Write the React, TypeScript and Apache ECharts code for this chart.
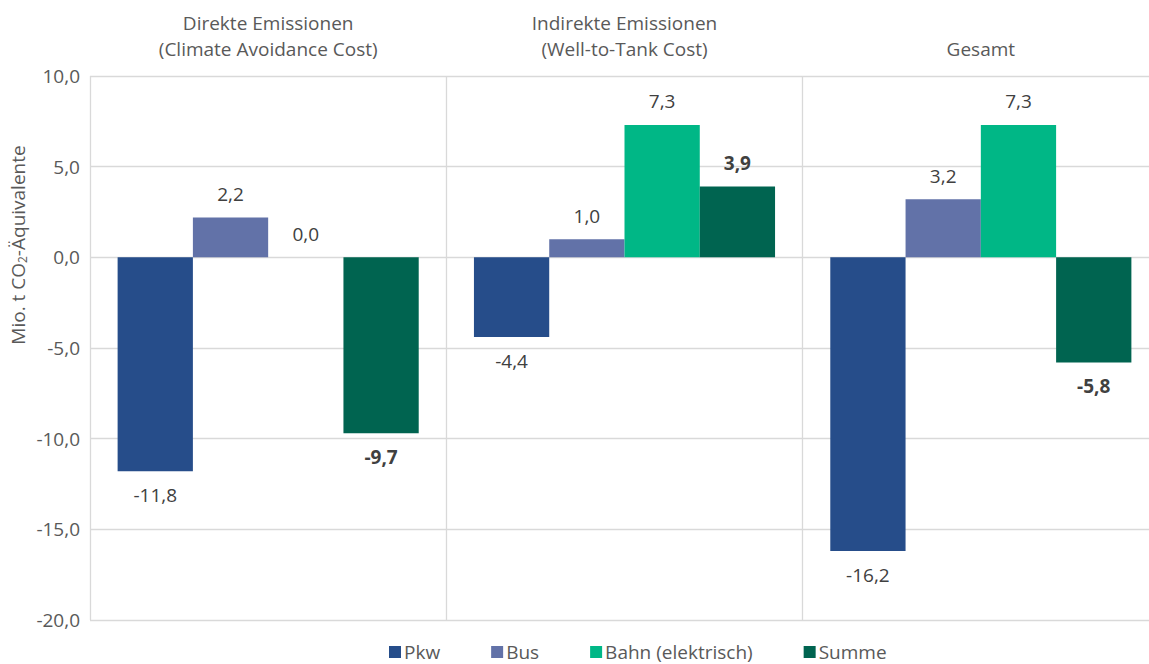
import React, { useEffect, useRef } from "react";
import * as echarts from "echarts";

const categories = [
  "Direkte Emissionen\n(Climate Avoidance Cost)",
  "Indirekte Emissionen\n(Well-to-Tank Cost)",
  "Gesamt",
];
const pkw = [-11.8, -4.4, -16.2];
const bus = [2.2, 1.0, 3.2];
const bahn = [0.0, 7.3, 7.3];
const summe = [-9.7, 3.9, -5.8];

const seriesNames = ["Pkw", "Bus", "Bahn (elektrisch)", "Summe"];
const seriesColors = ["#264D8A", "#6272A8", "#00B786", "#006450"];

const yTicks = { min: -20, max: 10, interval: 5 };

const FONT = "'Open Sans', 'Noto Sans', sans-serif";
const FS = 19;
const fmt = (v: number) => v.toFixed(1).replace(".", ",");

export default function App() {
  const ref = useRef<HTMLDivElement>(null);
  useEffect(() => {
    if (!ref.current) return;
    document.body.style.margin = "0";
    document.body.style.overflow = "hidden";
    const chart = echarts.init(ref.current, undefined, { renderer: "svg" });
    const allValues = [pkw, bus, bahn, summe];
    const series = allValues.map((vals, i) => ({
      name: seriesNames[i],
      type: "bar" as const,
      barGap: "0%",
      barCategoryGap: "15.5%",
      itemStyle: { color: seriesColors[i] },
      data: vals.map((v) => ({
        value: v,
        label: { position: v < 0 ? "bottom" : "top" },
      })),
      label: {
        show: true,
        distance: 14,
        color: "#404040",
        fontFamily: FONT,
        fontSize: FS,
        fontWeight: i === 3 ? "bold" : "normal",
        formatter: (p: any) => fmt(p.value),
      },
    }));
    chart.setOption({
      animation: false,
      textStyle: { fontFamily: FONT },
      // the canvas is wider than the window, so the plot runs past the visible right edge
      grid: {
        left: 90,
        right: 41,
        top: 76,
        bottom: 44,
        containLabel: false,
      },
      legend: {
        left: 384,
        top: 637,
        itemWidth: 12,
        itemHeight: 12,
        itemGap: 51,
        icon: "rect",
        textStyle: {
          color: "#595959",
          fontSize: FS,
          lineHeight: 20,
          fontFamily: FONT,
          padding: [0, 0, 0, -2],
        },
        data: seriesNames,
      },
      xAxis: {
        type: "category",
        position: "top",
        data: categories,
        axisLine: { show: false },
        axisTick: { show: false },
        splitLine: {
          show: true,
          showMaxLine: false,
          lineStyle: { color: "#D9D9D9", width: 1.3 },
        },
        axisLabel: {
          color: "#595959",
          fontSize: FS,
          lineHeight: 26,
          margin: 14,
          fontFamily: FONT,
        },
      },
      yAxis: {
        type: "value",
        min: yTicks.min,
        max: yTicks.max,
        interval: yTicks.interval,
        axisLine: { show: false },
        axisTick: { show: false },
        splitLine: { lineStyle: { color: "#D9D9D9", width: 1.3 } },
        axisLabel: {
          color: "#595959",
          fontSize: FS,
          margin: 10,
          fontFamily: FONT,
          formatter: (v: number) => fmt(v),
        },
      },
      graphic: [
        {
          type: "text",
          x: 18,
          y: 245,
          rotation: Math.PI / 2,
          style: {
            text: "{a|Mio. t CO}{s|2}{a|-Äquivalente}",
            align: "center",
            verticalAlign: "middle",
            fill: "#595959",
            rich: {
              a: { fontSize: FS, fontFamily: FONT, fill: "#595959" },
              s: { fontSize: 12, fontFamily: FONT, fill: "#595959", padding: [9, 0, 0, 0] },
            },
          },
        },
      ],
      series,
    });
    return () => chart.dispose();
  }, []);
  return (
    <div
      ref={ref}
      style={{ position: "absolute", left: 0, top: 0, width: 1200, height: 664 }}
    />
  );
}
